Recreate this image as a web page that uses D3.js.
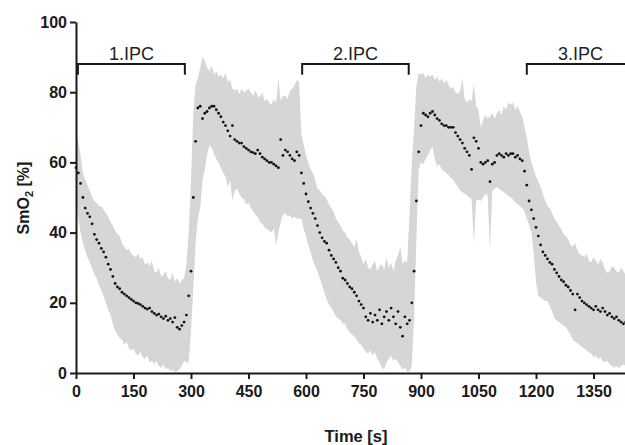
<!DOCTYPE html>
<html><head><meta charset="utf-8">
<script src="https://cdn.jsdelivr.net/npm/d3@7"></script>
<style>
body{margin:0;background:#fff}
svg{display:block}
text{font-family:"Liberation Sans",Arial,sans-serif}
</style>
</head><body>
<svg id="chart" width="625" height="445"></svg>
<script>
// Sampling interval of the series (seconds)
const sampleStep = 6;

// Mean SmO2 (%) every 6 s, from t = 0 s
const meanValues = [
  // 0..282
  58.5,57,54,50,47,45.5,44.5,42.5,39.5,38, 37,35.5,34.5,33,31,29.5,27.5,25.5,24.5,24,
  23,22.5,22,21.5,21,20.5,20,19.8,19.5,19, 18.5,18.2,18.5,17.5,17,16.5,16.8,16,15.5,16.2,
  15,15.5,14.5,15.8,13,12.5,13.5,14.5,
  // 288..330
  16.5,22,29,50,66,75.5,76,72.5,
  // 336..582
  74,74.5,75.5,76,76,75,74,73,71.5,70.5, 69,67.5,70.5,66.5,66,65.5,65.5,64.5,64,63.5,
  63,62.8,62.5,63.5,62.5,61.5,61,60.5,60,60, 59.5,59,58.5,66.5,62,63.5,63,62,61,60.5,
  63,62,
  // 588..894
  57,54,51,48.8,47,45.5,44,42,40,38.5, 37.5,37,35,33.5,32.5,31.5,30,29,27,26.5,
  25.5,24.5,24,23,22,20.5,19.5,18.5,16,15, 17,14.5,16.5,15,18,14,16,17.5,15,18.5,
  16,14,17.5,13,10.5,16,14,15,20,29, 49,63,
  // 900..1170
  70.5,74,73.5,73,74,74.5,73.5,72.5,72,71, 70.5,70.5,70,70,70,68.5,67.5,66.5,65.5,64,
  63,62,58,67,66,64,60,59.5,60,60.5, 54.5,59.5,60,62,62.5,62,61.5,62.5,62,62.5,
  62.5,61.5,62,61,60.5,57.5,
  // 1176..1434
  53.5,49,46.5,44,41.5,39,36.5,34.5,33.5,32.5, 31.5,31,29.5,28.5,27.5,26.5,26,25,24.5,23.5,
  22.5,18,22.5,21.5,20.5,20,19.5,19,18.5,18, 19,18,17.5,18.5,17.5,16.5,17,16,15.5,16,
  15,14.5,14,14.5
];

// Upper edge of the grey band (%)
const upperValues = [
  68,66,62,57,55,53.5,52,50,49,48.5, 47.5,47.5,46.5,45.5,44.5,43,42,40.5,39.5,39,
  37,36,35,35.5,34,33.5,33,34,32.5,33, 31,31.5,30.5,32,29,28.5,30,27.5,28,29,
  27,26.5,28.5,26,27,25.5,26.5,27,
  31,40,55,74,82,84,87,90,
  89,87,86,87.5,85,86,84.5,85,84,85.5, 83,83.5,81,80.5,81,79.5,81,80,80.5,81,
  80,79,80.5,79,78.5,80,77.5,78,77,76.5, 78,77,84,77.5,79,79,78,80.5,81,82,
  83.5,83,
  68,65,62,60,58,57,55,52.5,52,51, 50.5,49.5,48,47,46,44,43,42,40.5,40,
  38.5,38,37,36,38,34.5,33,31,32.5,30, 29.5,31,32,29,30.5,31,29.5,33,30,31.5,
  29,32,33.5,36,31,32,31.5,45,60,70, 82,85.5,
  85,85.5,84,85,84.5,85,83.5,84.5,83,84, 82.5,83.5,82,81,81.5,80,79.5,80.5,84,78,
  77,78,77.5,82.5,76,75,70,72,73.5,72.5, 73,74,72.5,74,75,73.5,76,75,77,76.5,
  77,75,76,74.5,73,70,
  67,63,60,58,56,54.5,53,51,49,47.5, 47,45.5,44,43,42,41,39.5,39,38,36.5,
  36,37,35,34,33.5,33,34,32,31.5,33, 32,31,32.5,31.5,29.5,28.5,29,30.5,30,29,
  28.5,30,29,28
];

// Lower edge of the grey band (%)
const lowerValues = [
  50,44,40,37,35,33,31.5,30,28,27, 25,23.5,22,20,18,16.5,14,12,11,10,
  9.5,8,9,7,6.5,7,5.5,5,6,4.5, 4,5,3,3.5,2.5,3.5,2,1.5,2.5,1,
  1.5,0.5,1,0.2,0.5,1,2,3.5,
  3,3,12,24,37,44,47,55,
  58,62,65,64,62.5,61,60,58.5,57,56, 53,55,49,52,52.5,51,50,49.5,48,48.5,
  47,46,45,44.5,43,42.5,41.5,41,40.5,40, 41,36.5,40,43,45,45.5,44.5,45,44,44.5,
  44,44,
  44,41,39,36.5,34.5,32,30.5,29,27,25, 23,21,19.5,18.5,17.5,16,15.5,15,14,14,
  12.5,11.5,11,10.5,9.5,8.5,8,7,6,5.5, 6.5,5,6,4,3,1.5,1,3,4,5,
  3.5,4,3,2,1,1.5,0.3,0.5,2,16, 38,58,
  60,59.5,61,62,63.5,64.5,61,59,59.5,58, 57.5,57,56.5,55.5,55,54,53,52,51.5,51,
  50.5,50,49.5,37,49,49.5,49,50,51,50.5, 35,52,52.5,53,52.5,52,51.5,51,50.5,50,
  49.5,48.5,48,47.5,47,46,
  44,42,40,34,26,22,21.5,21,20.5,20.5, 19,17.5,15.5,15,14.5,14,13.5,13,12,11,
  9.5,9,8.5,8,7.5,7,6.5,6,5.5,4.5, 5,4,4.5,3.5,3,3.5,2.5,2,1.5,2,
  1.5,2,2.5,2
];

const xTickValues = [0,150,300,450,600,750,900,1050,1200,1350];
const yTickValues = [0,20,40,60,80,100];

// IPC phases (brackets)
const ipcLabels = ["1.IPC","2.IPC","3.IPC"];
const ipcStart = [5,590,1176];
const ipcEnd = [284,868,1456];
const bracketLevel = 88;   // % level of the bracket bar
const bracketFoot = 85;    // % level of the bracket ends

const xTitle = "Time [s]";

const svg = d3.select("#chart");
const x = d3.scaleLinear().domain([0,1440]).range([76,628]);
const y = d3.scaleLinear().domain([0,100]).range([373,22]);

const data = meanValues.map((m,i)=>({t:i*sampleStep, m:m, hi:upperValues[i], lo:lowerValues[i]}));

// grey band
svg.append("path")
  .datum(data)
  .attr("fill","#d6d6d6")
  .attr("stroke","none")
  .attr("d", d3.area().x(d=>x(d.t)).y0(d=>y(d.lo)).y1(d=>y(d.hi)));

// mean dots
svg.append("g").selectAll("circle").data(data).join("circle")
  .attr("cx",d=>x(d.t)).attr("cy",d=>y(d.m)).attr("r",1.4).attr("fill","#111");

// axes
const axisColor = "#1a1a1a";
const gx = svg.append("g").attr("transform","translate(0,373)")
  .call(d3.axisBottom(x).tickValues(xTickValues).tickFormat(d3.format("d"))
    .tickSize(6).tickSizeOuter(0).tickPadding(6.5));
const gy = svg.append("g").attr("transform","translate(76,0)")
  .call(d3.axisLeft(y).tickValues(yTickValues).tickFormat(d3.format("d"))
    .tickSize(6).tickSizeOuter(0).tickPadding(3));
[gx,gy].forEach(g=>{
  g.select(".domain").attr("stroke",axisColor).attr("stroke-width",2);
  g.selectAll(".tick line").attr("stroke",axisColor).attr("stroke-width",2);
  g.selectAll(".tick text").attr("fill","#1a1a1a").style("font-size","16px").style("font-weight","bold")
    .style("font-family","'Liberation Sans',Arial,sans-serif");
});

// brackets
const br = svg.append("g");
ipcLabels.forEach((lab,i)=>{
  const x0 = x(ipcStart[i]), x1 = x(ipcEnd[i]);
  br.append("path")
    .attr("d", d3.line()([[x0,y(bracketFoot)],[x0,y(bracketLevel)],[x1,y(bracketLevel)],[x1,y(bracketFoot)]]))
    .attr("fill","none").attr("stroke","#1a1a1a").attr("stroke-width",2);
  br.append("text")
    .attr("x",(x0+x1)/2).attr("y",y(bracketLevel)-4)
    .attr("text-anchor","middle").attr("fill","#222")
    .style("font-size","18px")
    .text(lab);
});

// axis titles
svg.append("text").attr("x",356).attr("y",442).attr("text-anchor","middle")
  .attr("fill","#1a1a1a").style("font-size","16.5px").style("font-weight","bold").text(xTitle);

const yt = svg.append("text")
  .attr("transform","translate(29,198) rotate(-90)")
  .attr("text-anchor","middle").attr("fill","#1a1a1a")
  .style("font-size","16px").style("font-weight","bold");
yt.append("tspan").text("SmO");
yt.append("tspan").attr("dy",4).style("font-size","11px").text("2");
yt.append("tspan").attr("dy",-4).text(" [%]");
</script>
</body></html>
